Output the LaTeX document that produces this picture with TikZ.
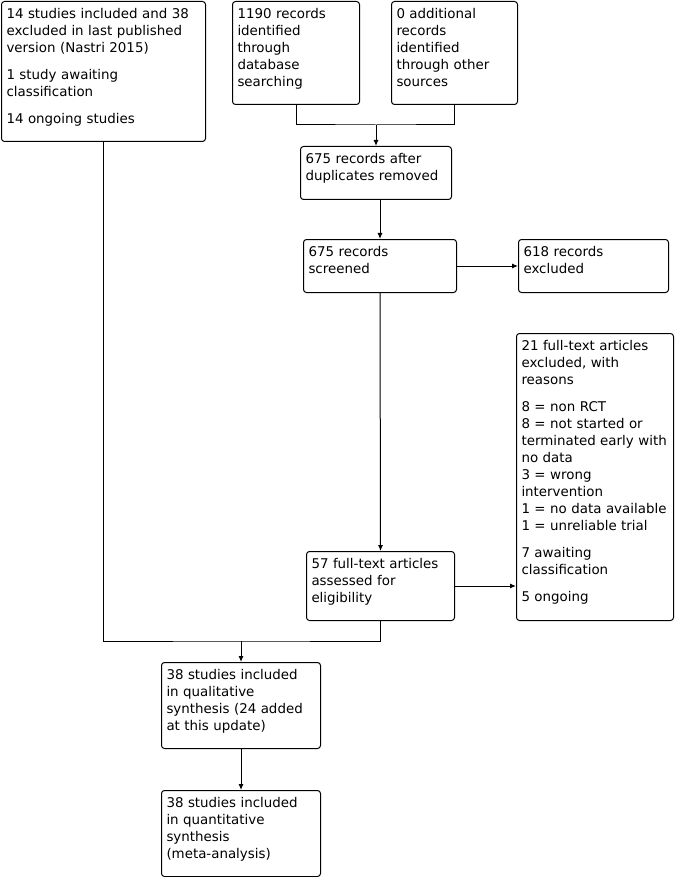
\documentclass[tikz,border=0pt]{standalone}
\usepackage{fontspec}
\setmainfont{DejaVu Sans}
\usetikzlibrary{arrows.meta,positioning}
\tikzset{
  box/.style={
    rectangle, rounded corners=3pt, draw=black, line width=1pt,
    anchor=north west, align=left, inner xsep=5pt, inner ysep=0pt,
    text height=17pt, font=\fontsize{13.4}{17}\selectfont
  },
  line/.style={line width=1pt, draw=black},
  arr/.style={-{Latex[length=6pt,width=5pt]}, line width=1pt, draw=black}
}

\begin{document}
\begin{tikzpicture}[x=1pt, y=-1pt]
  \useasboundingbox (0,0) rectangle (676,877);

  % Identification
  \node[box, text width=194pt, text depth=123pt] (prev) at (1,1)
    {14 studies included and 38\\excluded in last published\\version (Nastri 2015)\\[10pt]
     1 study awaiting\\classification\\[10pt]14 ongoing studies};
  \node[box, text width=117pt, text depth=86pt] (dbsearch) at (232,1)
    {1190 records\\identified\\through\\database\\searching};
  \node[box, text width=116pt, text depth=86pt] (othersrc) at (391,1)
    {0 additional\\records\\identified\\through other\\sources};

  % Screening
  \node[box, text width=141pt, text depth=36pt] (dedup) at (300,146)
    {675 records after\\duplicates removed};
  \node[box, text width=143pt, text depth=36pt] (screen) at (303,239)
    {675 records\\screened};
  \node[box, text width=140pt, text depth=36pt] (screenex) at (518,239)
    {618 records\\excluded};

  % Eligibility
  \node[box, text width=138pt, text depth=52pt] (fulltext) at (306,551)
    {57 full-text articles\\assessed for\\eligibility};
  \node[box, text width=147pt, text depth=270pt] (fullex) at (516,333)
    {21 full-text articles\\excluded, with\\reasons\\[10pt]
     8 = non RCT\\8 = not started or\\terminated early with\\no data\\3 = wrong\\intervention\\
     1 = no data available\\1 = unreliable trial\\[10pt]
     7 awaiting\\classification\\[10pt]5 ongoing};

  % Included
  \node[box, text width=149pt, text depth=69pt] (qualsyn) at (161,662)
    {38 studies included\\in qualitative\\synthesis (24 added\\at this update)};
  \node[box, text width=149pt, text depth=69pt] (quantsyn) at (161,790)
    {38 studies included\\in quantitative\\synthesis\\(meta-analysis)};

  % Join points
  \path (dedup.north) ++(0,-21) coordinate (join);
  \path (qualsyn.north) ++(0,-21) coordinate (join2);

  % Arrows
  \draw[line] (dbsearch.south) |- (join) -| (othersrc.south);
  \draw[arr] (join) -- (join |- dedup.north);
  \draw[arr] (dedup.south -| screen.north) -- (screen.north);
  \draw[arr] (screen.east) -- (screenex.west);
  \draw[arr] (screen.south) -- (fulltext.north);
  \draw[arr] (fulltext.east) -- (fulltext.east -| fullex.west);
  \draw[line] (prev.south) |- (join2) -| (fulltext.south);
  \draw[arr] (join2) -- (qualsyn.north);
  \draw[arr] (qualsyn.south) -- (quantsyn.north);
\end{tikzpicture}
\end{document}
